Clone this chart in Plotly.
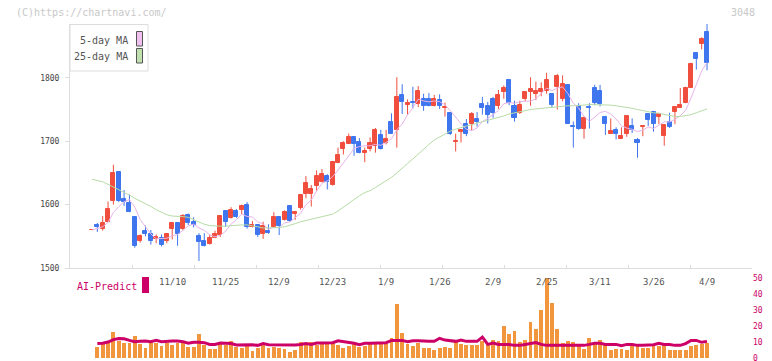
import plotly.graph_objects as go
import pandas as pd

dates = ["10/17","10/20","10/21","10/22","10/23","10/24","10/27","10/28","10/29","10/30","10/31",
         "11/4","11/5","11/6","11/7","11/10","11/11","11/12","11/13","11/14","11/17","11/18","11/19",
         "11/20","11/21","11/25","11/26","11/27","11/28","12/1","12/2","12/3","12/4","12/5","12/8",
         "12/9","12/10","12/11","12/12","12/15","12/16","12/17","12/18","12/19","12/22","12/23",
         "12/24","12/25","12/26","12/29","12/30","1/5","1/6","1/7","1/8","1/9","1/13","1/14","1/15",
         "1/16","1/19","1/20","1/21","1/22","1/23","1/26","1/27","1/28","1/29","1/30","2/2","2/3",
         "2/4","2/5","2/6","2/9","2/10","2/12","2/13","2/16","2/17","2/18","2/19","2/20","2/24",
         "2/25","2/26","2/27","3/2","3/3","3/4","3/5","3/6","3/9","3/10","3/11","3/12","3/13",
         "3/16","3/17","3/18","3/19","3/23","3/24","3/25","3/26","3/27","3/30","3/31","4/1","4/2",
         "4/3","4/6","4/7","4/8","4/9"]

open_ = [1560,1568,1561,1573,1606,1651,1609,1602,1581,1542,1558,1554,1545,1547,1542,1561,1571,1561,
         1584,1573,1550,1542,1538,1547,1552,1590,1579,1590,1591,1600,1564,1568,1554,1558,1565,1581,
         1575,1598,1586,1595,1617,1617,1630,1636,1645,1631,1666,1688,1696,1707,1699,1681,1688,1693,
         1710,1697,1730,1718,1773,1757,1762,1758,1767,1767,1755,1765,1752,1745,1699,1715,1728,1728,
         1735,1759,1756,1767,1756,1778,1796,1755,1745,1767,1778,1774,1778,1779,1775,1786,1767,1789,
         1724,1756,1720,1754,1784,1780,1739,1712,1718,1704,1712,1724,1702,1722,1743,1746,1739,1708,
         1730,1746,1753,1760,1784,1840,1853,1872]
high = [1560,1571,1582,1605,1663,1653,1623,1616,1582,1553,1567,1560,1553,1553,1555,1571,1571,1585,
        1586,1580,1555,1555,1553,1559,1582,1591,1596,1593,1600,1604,1574,1568,1573,1569,1588,1582,
        1591,1599,1590,1615,1645,1631,1654,1656,1648,1667,1690,1700,1712,1707,1705,1690,1706,1721,
        1718,1718,1744,1801,1790,1766,1786,1787,1775,1776,1773,1774,1761,1745,1712,1719,1735,1746,
        1746,1770,1762,1770,1781,1788,1797,1764,1764,1778,1801,1794,1793,1808,1775,1806,1804,1790,
        1731,1760,1739,1760,1789,1789,1740,1736,1722,1722,1740,1736,1705,1725,1744,1748,1745,1726,
        1745,1755,1784,1786,1824,1840,1864,1885]
low = [1560,1557,1559,1572,1600,1604,1598,1588,1532,1540,1550,1537,1539,1534,1539,1545,1535,1560,
       1568,1564,1511,1534,1537,1547,1549,1565,1578,1579,1585,1562,1564,1549,1546,1554,1565,1552,
       1575,1573,1576,1592,1610,1597,1622,1635,1624,1630,1666,1679,1696,1677,1681,1667,1684,1682,
       1687,1695,1712,1690,1743,1742,1752,1754,1748,1755,1755,1751,1739,1710,1684,1698,1708,1717,
       1723,1742,1728,1737,1751,1767,1757,1731,1743,1763,1756,1765,1771,1775,1753,1750,1763,1727,
       1690,1718,1704,1720,1757,1755,1710,1712,1703,1704,1707,1713,1674,1708,1724,1715,1727,1693,
       1721,1727,1753,1760,1784,1813,1845,1812]
close = [1560,1564,1571,1593,1650,1605,1604,1588,1534,1551,1553,1543,1549,1536,1554,1571,1554,1582,
         1571,1568,1541,1535,1547,1554,1582,1573,1591,1581,1598,1564,1568,1552,1566,1555,1580,1567,
         1588,1574,1588,1615,1634,1625,1645,1648,1635,1667,1678,1697,1707,1695,1681,1684,1697,1718,
         1688,1704,1712,1770,1762,1760,1760,1780,1756,1755,1767,1755,1754,1711,1701,1717,1712,1743,
         1731,1752,1742,1745,1773,1784,1761,1737,1757,1778,1783,1780,1782,1797,1757,1803,1790,1728,
         1722,1719,1737,1752,1760,1759,1728,1716,1712,1708,1740,1718,1698,1724,1733,1728,1743,1725,
         1723,1754,1757,1784,1822,1830,1862,1824]

ma25 = [1640,1638,1636,1632,1628,1624,1620,1615,1610,1606,1601,1597,1592,1588,1584,1582,1582,1581,
        1580,1576,1572,1569,1567,1566,1566,1566,1567,1568,1568,1568,1567,1565,1563,1563,1563,1564,
        1565,1567,1570,1573,1575,1577,1578,1580,1582,1585,1590,1596,1603,1609,1614,1619,1622,1627,
        1632,1637,1643,1650,1658,1665,1672,1680,1688,1695,1702,1707,1712,1716,1719,1722,1724,1726,
        1729,1731,1733,1735,1737,1740,1743,1745,1747,1749,1750,1751,1752,1753,1754,1755,1756,1756,
        1756,1756,1757,1758,1758,1758,1758,1757,1756,1755,1754,1752,1750,1748,1746,1745,1744,1742,
        1740,1739,1739,1740,1742,1745,1748,1751]

volume = [0,6.7,9.2,10.2,16,10.4,9.2,9.6,13.5,8.5,6,9.2,9.2,7.3,9.2,8.1,9.2,9.4,6.7,6.7,14.8,8.3,
          5.4,5.4,8.75,8.1,10.4,6.7,6,7.7,4.4,6,7.9,6,6.7,6,5.4,3.5,4.8,9.8,8.3,9.8,7.9,8.5,9.2,9.6,
          7.9,6,7.3,8.5,6.7,7.3,8.5,8.5,9.2,8.5,12.3,33.5,15.4,8.5,7.5,9.2,6,6,4.8,6,6.7,6,9.8,8.5,
          7.9,7.9,7.9,10.4,8.5,11,10.4,20,14.8,16.7,9.8,11,22.3,17.9,29.8,49.8,34.2,17.9,9.2,10.4,
          9.8,8.5,5.4,12.3,8.5,11,7.9,4.8,5.4,5.4,4.8,7.9,7.3,6,6,7.3,7.3,8.5,4.8,4.8,4.8,4.8,7.3,
          7.9,8.5,9.2]

ai_predict = [None,9.0,9.2,10.0,11.5,12.2,12.0,11.0,10.2,10.4,10.6,10.2,11.0,10.2,10.6,10.6,10.6,
              10.2,9.2,9.8,9.8,9.6,8.5,8.5,9.4,9.0,9.0,8.1,8.3,8.3,8.3,7.9,9.0,8.3,8.3,7.9,7.9,7.9,
              8.1,8.5,9.0,8.5,9.4,9.4,9.4,9.6,10.8,10.4,9.6,9.2,8.3,9.2,9.2,9.2,9.2,9.6,11.0,11.0,
              11.0,10.2,10.8,10.8,10.4,10.4,10.4,12.3,11.2,11.0,10.4,11.2,10.4,10.4,10.4,13.1,8.5,
              9.4,8.5,8.5,8.5,7.9,7.9,8.5,9.0,9.6,8.5,7.9,7.9,7.9,7.9,7.9,7.9,7.9,7.9,8.5,9.2,9.2,
              8.5,8.5,8.5,7.7,8.5,8.5,7.9,7.9,7.9,8.3,9.2,8.5,8.5,7.9,7.9,9.0,11.0,11.0,9.8,10.4]

y_ticks = [1500, 1600, 1700, 1800]
vol_ticks = [0, 10, 20, 30, 40, 50]
label_start, label_step = 15, 10

# ---- derived ----
idx = list(range(len(dates)))
ma5 = pd.Series(close).rolling(5, min_periods=1).mean().tolist()

UP, DOWN = "#F04E3E", "#3F76EE"
is_up = [c >= o for o, c in zip(open_, close)]
body_col = [UP if u else DOWN for u in is_up]

W, H = 772, 361
ML, MR, MT, MB = 70, 20, 24, 3
PW, PH = W - ML - MR, H - MT - MB


def px_x(px):
    return (px - ML) / PW


def px_y(py):
    return (H - MB - py) / PH


FONT = "DejaVu Sans Mono"

fig = go.Figure()

# wicks
for flag, col in ((True, UP), (False, DOWN)):
    wx, wy = [], []
    for i in idx:
        if is_up[i] == flag:
            wx += [i, i, None]
            wy += [low[i], high[i], None]
    fig.add_trace(go.Scatter(x=wx, y=wy, mode="lines", line=dict(color=col, width=1),
                             hoverinfo="skip", showlegend=False, xaxis="x", yaxis="y"))

# bodies
fig.add_trace(go.Bar(x=idx, y=[abs(c - o) for o, c in zip(open_, close)],
                     base=[min(o, c) for o, c in zip(open_, close)],
                     width=0.75, marker=dict(color=body_col, line=dict(color=body_col, width=1)),
                     showlegend=False, xaxis="x", yaxis="y"))

fig.add_trace(go.Scatter(x=idx, y=ma5, mode="lines", line=dict(color="#E8B4EA", width=1),
                         showlegend=False, xaxis="x", yaxis="y"))
fig.add_trace(go.Scatter(x=idx, y=ma25, mode="lines", line=dict(color="#B6DCA6", width=1),
                         showlegend=False, xaxis="x", yaxis="y"))

# volume
fig.add_trace(go.Bar(x=idx, y=volume, width=0.72, marker=dict(color="#F2963E", line=dict(width=0)),
                     showlegend=False, xaxis="x2", yaxis="y2"))
fig.add_trace(go.Scatter(x=idx, y=ai_predict, mode="lines", line=dict(color="#CC0066", width=3),
                         showlegend=False, xaxis="x2", yaxis="y2"))

x0 = (ML - 92) / 5.348
x1 = x0 + PW / 5.348

annotations = []
for i in range(label_start, len(dates), label_step):
    annotations.append(dict(x=i, xref="x", y=px_y(282), yref="paper", text=dates[i], showarrow=False,
                            font=dict(family=FONT, size=9, color="#555555"), xanchor="center",
                            yanchor="middle"))

annotations += [
    dict(x=px_x(14), y=px_y(12.5), xref="paper", yref="paper", text="(C)https://chartnavi.com/",
         showarrow=False, xanchor="left", yanchor="middle", font=dict(family=FONT, size=10, color="#C8C8C8")),
    dict(x=px_x(757), y=px_y(12.5), xref="paper", yref="paper", text="3048",
         showarrow=False, xanchor="right", yanchor="middle", font=dict(family=FONT, size=10, color="#C8C8C8")),
    dict(x=px_x(130), y=px_y(40), xref="paper", yref="paper", text="5-day MA",
         showarrow=False, xanchor="right", yanchor="middle", font=dict(family=FONT, size=10, color="#555555")),
    dict(x=px_x(130), y=px_y(57), xref="paper", yref="paper", text="25-day MA",
         showarrow=False, xanchor="right", yanchor="middle", font=dict(family=FONT, size=10, color="#555555")),
    dict(x=px_x(75), y=px_y(286), xref="paper", yref="paper", text="AI-Predict",
         showarrow=False, xanchor="left", yanchor="middle", font=dict(family=FONT, size=10, color="#CC0066")),
]

shapes = [
    dict(type="rect", xref="paper", yref="paper", x0=px_x(70), x1=px_x(148), y0=px_y(71), y1=px_y(24.5),
         line=dict(color="#DDDDDD", width=1), fillcolor="white", layer="above"),
    dict(type="rect", xref="paper", yref="paper", x0=px_x(136.5), x1=px_x(142.5), y0=px_y(46), y1=px_y(31.5),
         line=dict(color="#555555", width=1), fillcolor="#F0C0F0", layer="above"),
    dict(type="rect", xref="paper", yref="paper", x0=px_x(136.5), x1=px_x(142.5), y0=px_y(63), y1=px_y(48.5),
         line=dict(color="#555555", width=1), fillcolor="#C0E0B0", layer="above"),
    dict(type="rect", xref="paper", yref="paper", x0=px_x(142), x1=px_x(149), y0=px_y(293), y1=px_y(277),
         line=dict(width=0), fillcolor="#CC0066"),
]

fig.update_layout(
    width=W, height=H, margin=dict(l=ML, r=MR, t=MT, b=MB, pad=0, autoexpand=False),
    paper_bgcolor="white", plot_bgcolor="white", barmode="overlay", bargap=0,
    xaxis=dict(domain=[0, 1], range=[x0, x1], anchor="y", showgrid=False, zeroline=False,
               showline=True, linecolor="#DDDDDD", linewidth=1, ticks="inside", ticklen=3,
               tickcolor="#DDDDDD", tickmode="linear", tick0=x0, dtick=(x1 - x0) / 11,
               showticklabels=False, automargin=False),
    yaxis=dict(domain=[px_y(268), 1], range=[1500, 1885], anchor="x", showgrid=False, zeroline=False,
               showline=True, linecolor="#DDDDDD", linewidth=1, ticks="outside", ticklen=4,
               tickcolor="#DDDDDD", tickvals=y_ticks, ticklabelstandoff=4, automargin=False,
               ticklabeloverflow="allow",
               tickfont=dict(family=FONT, size=8, color="#444444")),
    xaxis2=dict(domain=[0, 1], range=[x0, x1], anchor="y2", showgrid=False, zeroline=False,
                showline=False, showticklabels=False, ticks="", automargin=False),
    yaxis2=dict(domain=[0, px_y(278)], range=[0, 50], anchor="x2", side="right", showgrid=False,
                zeroline=False, showline=False, tickvals=vol_ticks, ticks="", automargin=False,
                ticklabeloverflow="allow",
                tickfont=dict(family=FONT, size=8, color="#CC0066")),
    annotations=annotations, shapes=shapes,
)

# remove the browser's default page margin so the figure sits at the window's top-left corner
fig.write_html("out.html", config={"displayModeBar": False},
               post_script="document.body.style.margin='0';")
